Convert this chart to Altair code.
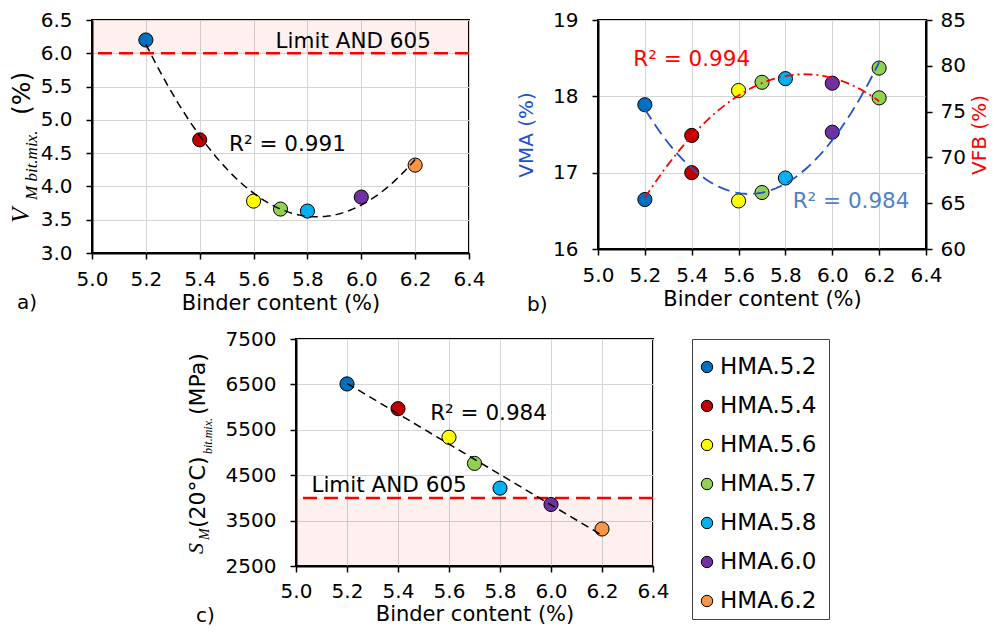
import altair as alt
import pandas as pd

# ---------------- data ----------------
binder = [5.2, 5.4, 5.6, 5.7, 5.8, 6.0, 6.2]
mixes = ["HMA.5.2", "HMA.5.4", "HMA.5.6", "HMA.5.7", "HMA.5.8", "HMA.6.0", "HMA.6.2"]
mix_colors = ["#0070C0", "#C00000", "#FFFF00", "#92D050", "#00B0F0", "#7030A0", "#F79646"]
panel_b_colors = ["#0070C0", "#C00000", "#FFFF00", "#92D050", "#00B0F0", "#7030A0", "#92D050"]

vm_bit_mix = [6.20, 4.70, 3.78, 3.66, 3.63, 3.84, 4.32]
vma = [17.89, 17.00, 16.63, 16.74, 16.93, 17.53, 18.37]
vfb = [65.4, 72.4, 77.3, 78.2, 78.6, 78.1, 76.5]
sm_20c = [6510, 5965, 5335, 4760, 4215, 3855, 3315]

x_ticks = [5.0, 5.2, 5.4, 5.6, 5.8, 6.0, 6.2, 6.4]
vm_ticks = [3.0, 3.5, 4.0, 4.5, 5.0, 5.5, 6.0, 6.5]
vma_ticks = [16, 17, 18, 19]
vfb_ticks = [60, 65, 70, 75, 80, 85]
sm_ticks = [2500, 3500, 4500, 5500, 6500, 7500]

limit_vm = [6.0]
limit_sm = [4000]
limit_label = "Limit AND 605"
r2_a = "R² = 0.991"
r2_vfb = "R² = 0.994"
r2_vma = "R² = 0.984"
r2_c = "R² = 0.984"

FONT = "DejaVu Sans"
MATH = "Liberation Serif"

WA, HA = 377, 233
WB, HB = 328, 229
WC, HC = 357, 227
PT = 200


def xenc(field="binder", lp=10, tp=3):
    return alt.X(f"{field}:Q",
                 scale=alt.Scale(domain=[5.0, 6.4], nice=False, zero=False),
                 axis=alt.Axis(values=x_ticks, format=".1f", title="Binder content (%)",
                               labelPadding=lp, titlePadding=tp, labelFlush=False,
                               labelOverlap=False, grid=True, titleFontSize=21))


def piece(text, x, y, size, font, italic=False, color="black"):
    return alt.Chart(pd.DataFrame({"t": [text]})).mark_text(
        angle=270, align="left", baseline="alphabetic", fontSize=size, font=font,
        fontStyle="italic" if italic else "normal", color=color
    ).encode(x=alt.value(x), y=alt.value(y), text="t:N")


def label(text, x, y):
    return alt.Chart(pd.DataFrame({"t": [text]})).mark_text(
        align="left", baseline="middle", fontSize=20, font=FONT, color="black"
    ).encode(x=alt.value(x), y=alt.value(y), text="t:N")


# ---------------- panel a ----------------
def ya(field):
    return alt.Y(f"{field}:Q", scale=alt.Scale(domain=[3.0, 6.5], nice=False, zero=False),
                 axis=alt.Axis(values=vm_ticks, format=".1f", title="", labelPadding=14, grid=True))


dfa = pd.DataFrame({"binder": binder, "vm": vm_bit_mix, "col": mix_colors})
shade_a = alt.Chart(pd.DataFrame({"lo": limit_vm, "hi": [6.5]})).mark_rect(
    color="#FF0000", opacity=0.06).encode(x=alt.value(0), x2=alt.value(WA), y=ya("lo"), y2="hi:Q")
rule_a = alt.Chart(pd.DataFrame({"lim": limit_vm})).mark_rule(
    color="#FF0000", strokeWidth=2.5, strokeDash=[14, 7]).encode(y=ya("lim"))
pts_a = alt.Chart(dfa).mark_circle(size=PT, opacity=1, stroke="black", strokeWidth=1).encode(
    x=xenc(), y=ya("vm"), color=alt.Color("col:N", scale=None))
reg_a = alt.Chart(dfa).transform_regression(
    "binder", "vm", method="poly", order=2, extent=[5.2, 6.2]
).mark_line(color="black", strokeWidth=1.5, strokeDash=[8, 5]).encode(x=xenc(), y=ya("vm"))
txt_a = alt.Chart(pd.DataFrame({"binder": [5.97, 5.726], "vm": [6.17, 4.62],
                                "t": [limit_label, r2_a]})).mark_text(
    fontSize=21.5, font=FONT, color="black").encode(x=xenc(), y=ya("vm"), text="t:N")

panel_a = alt.layer(
    shade_a, rule_a, pts_a, reg_a, txt_a,
    piece("V", -63, 203, 25, MATH, True),
    piece("M bit.mix.", -55, 180, 17, MATH, True),
    piece("(%)", -62, 95, 25, FONT),
    label("a)", -75, 283),
).properties(width=WA, height=HA)

# ---------------- panel b ----------------
dfb = pd.DataFrame({"binder": binder, "vma": vma, "vfb": vfb, "col": panel_b_colors})


def yl(field):
    return alt.Y(f"{field}:Q", scale=alt.Scale(domain=[16, 19], nice=False, zero=False),
                 axis=alt.Axis(values=vma_ticks, format="d", title="VMA (%)", titleColor="#2050D0",
                               labelPadding=14, titlePadding=16, grid=True, orient="left"))


def yr(field):
    return alt.Y(f"{field}:Q", scale=alt.Scale(domain=[60, 85], nice=False, zero=False),
                 axis=alt.Axis(values=vfb_ticks, format="d", title="VFB (%)", titleColor="#FF0000",
                               titleAngle=270, titleBaseline="top",
                               labelPadding=8, titlePadding=4, grid=False, orient="right"))


pts_vma = alt.Chart(dfb).mark_circle(size=PT, opacity=1, stroke="black", strokeWidth=1).encode(
    x=xenc(), y=yl("vma"), color=alt.Color("col:N", scale=None))
reg_vma = alt.Chart(dfb).transform_regression(
    "binder", "vma", method="poly", order=2, extent=[5.2, 6.2]
).mark_line(color="#2050D0", strokeWidth=1.8, strokeDash=[12, 6]).encode(x=xenc(), y=yl("vma"))
txt_vma = alt.Chart(pd.DataFrame({"binder": [6.08], "vma": [16.61], "t": [r2_vma]})).mark_text(
    fontSize=21.5, font=FONT, color="#4F81C8").encode(x=xenc(), y=yl("vma"), text="t:N")

pts_vfb = alt.Chart(dfb).mark_circle(size=PT, opacity=1, stroke="black", strokeWidth=1).encode(
    x=xenc(), y=yr("vfb"), color=alt.Color("col:N", scale=None))
reg_vfb = alt.Chart(dfb).transform_regression(
    "binder", "vfb", method="poly", order=2, extent=[5.2, 6.2]
).mark_line(color="#FF0000", strokeWidth=1.8, strokeDash=[9, 4, 2, 4]).encode(x=xenc(), y=yr("vfb"))
txt_vfb = alt.Chart(pd.DataFrame({"binder": [5.40], "vfb": [80.6], "t": [r2_vfb]})).mark_text(
    fontSize=21.5, font=FONT, color="#FF0000").encode(x=xenc(), y=yr("vfb"), text="t:N")

left_b = alt.layer(pts_vma, reg_vma, txt_vma)
right_b = alt.layer(pts_vfb, reg_vfb, txt_vfb)
panel_b = alt.layer(left_b, right_b, label("b)", -71, 285)).resolve_scale(y="independent").properties(
    width=WB, height=HB)

# ---------------- panel c ----------------
def yc(field):
    return alt.Y(f"{field}:Q", scale=alt.Scale(domain=[2500, 7500], nice=False, zero=False),
                 axis=alt.Axis(values=sm_ticks, format="d", title="", labelPadding=14, grid=True))


def xc():
    return xenc(lp=9, tp=2)


dfc = pd.DataFrame({"binder": binder, "sm": sm_20c, "col": mix_colors})
shade_c = alt.Chart(pd.DataFrame({"lo": [2500], "hi": limit_sm})).mark_rect(
    color="#FF0000", opacity=0.06).encode(x=alt.value(0), x2=alt.value(WC), y=yc("lo"), y2="hi:Q")
rule_c = alt.Chart(pd.DataFrame({"lim": limit_sm})).mark_rule(
    color="#FF0000", strokeWidth=2.5, strokeDash=[14, 7]).encode(y=yc("lim"))
pts_c = alt.Chart(dfc).mark_circle(size=PT, opacity=1, stroke="black", strokeWidth=1).encode(
    x=xc(), y=yc("sm"), color=alt.Color("col:N", scale=None))
reg_c = alt.Chart(dfc).transform_regression(
    "binder", "sm", method="linear", extent=[5.2, 6.2]
).mark_line(color="black", strokeWidth=1.5, strokeDash=[8, 5]).encode(x=xc(), y=yc("sm"))
txt_c = alt.Chart(pd.DataFrame({"binder": [5.365, 5.755], "sm": [4271, 5850],
                                "t": [limit_label, r2_c]})).mark_text(
    fontSize=21.5, font=FONT, color="black").encode(x=xc(), y=yc("sm"), text="t:N")

panel_c = alt.layer(
    shade_c, rule_c, pts_c, reg_c, txt_c,
    piece("S", -93, 215, 22, MATH, True),
    piece("M", -87, 201, 14, MATH, True),
    piece("(20°C)", -91, 189, 22, FONT),
    piece("bit.mix.", -84, 115, 12, MATH, True),
    piece("(MPa)", -91, 76, 22, FONT),
    label("c)", -100, 277),
).properties(width=WC, height=HC)

# ---------------- legend ----------------
dfl = pd.DataFrame({"idx": list(range(len(mixes))), "mix": mixes, "col": mix_colors})
leg_y = alt.Y("idx:Q", scale=alt.Scale(domain=[-0.718, 6.462], nice=False, zero=False, reverse=True),
              axis=None)
leg_pts = alt.Chart(dfl).mark_circle(size=130, opacity=1, stroke="black", strokeWidth=1).encode(
    x=alt.value(15), y=leg_y, color=alt.Color("col:N", scale=None))
leg_txt = alt.Chart(dfl).mark_text(align="left", baseline="middle", fontSize=23, font=FONT,
                                   color="black").encode(x=alt.value(28), y=leg_y, text="mix:N")
legend = alt.layer(leg_pts, leg_txt).properties(
    width=137, height=280, view=alt.ViewBackground(stroke="#404040", strokeWidth=1))

spacer = alt.Chart(pd.DataFrame({"a": [0]})).mark_point(opacity=0).encode(
    x=alt.value(0), y=alt.value(0)).properties(
    width=70, height=10, view=alt.ViewBackground(stroke="transparent"))

top = alt.hconcat(panel_a, panel_b, spacing=29)
bottom = alt.hconcat(spacer, panel_c, legend, spacing=21)

chart = alt.vconcat(top, bottom, spacing=12).properties(
    padding={"left": 0, "top": 1, "right": 2, "bottom": 0}
).configure(font=FONT).configure_axis(
    labelFontSize=20, titleFontSize=20, labelColor="black", titleColor="black",
    tickColor="black", domainColor="black", domainWidth=2, tickWidth=1.5, tickSize=6,
    gridColor="#d4d4d4", gridWidth=1, labelFont=FONT, titleFont=FONT, titleFontWeight="normal"
).configure_view(stroke="black", strokeWidth=2)

chart.save("out.html", embed_options={"renderer": "svg", "actions": False})
